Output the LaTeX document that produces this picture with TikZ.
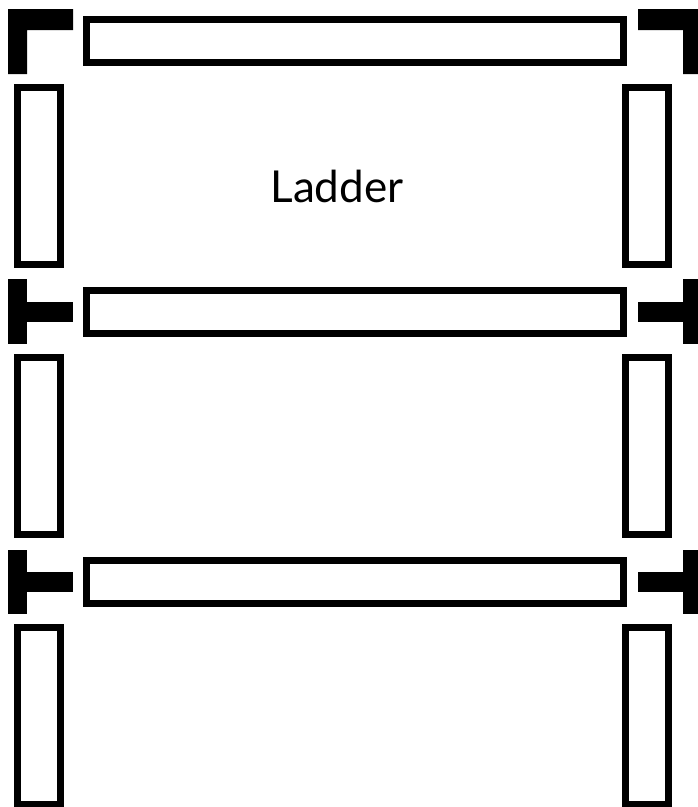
\documentclass[tikz,border=0pt]{standalone}
\usepackage{fontspec}
\setmainfont{Lato}
\begin{document}
\begin{tikzpicture}[x=1pt,y=-1pt,
  bar/.style={draw=black, line width=7pt, fill=white},
  joint/.style={fill=black, draw=none},
  label/.style={font=\fontsize{44}{48}\selectfont, text=black, inner sep=0pt}]
\useasboundingbox (0,0) rectangle (698,807);
\clip (0,0) rectangle (698,807);
% rungs
\draw[bar] (86.5,19.5) rectangle (623.5,62.5);
\draw[bar] (86.5,290.5) rectangle (623.5,333.5);
\draw[bar] (86.5,560.5) rectangle (623.5,603.5);
% rails
\foreach \y/\yy in {87.5/264.5, 357.5/534.5, 627.5/804.5}{
  \draw[bar] (17.5,\y) rectangle (60.5,\yy);
  \draw[bar] (625.5,\y) rectangle (668.5,\yy);
}
% top corners
\fill[joint] (8,9) -- (73,9) -- (73,30) -- (27,30) -- (27,74) -- (8,74) -- cycle;
\fill[joint] (638,9) -- (702,9) -- (702,74) -- (683,74) -- (683,30) -- (638,30) -- cycle;
% T joints
\foreach \a/\b/\c/\d in {279/344/302/322, 550/614/572/592}{
  \fill[joint] (8,\a) rectangle (27,\b);
  \fill[joint] (26,\c) rectangle (73,\d);
  \fill[joint] (683,\a) rectangle (702,\b);
  \fill[joint] (638,\c) rectangle (684,\d);
}
\node[label] (title) at (337,186) {Ladder};
\end{tikzpicture}
\end{document}
